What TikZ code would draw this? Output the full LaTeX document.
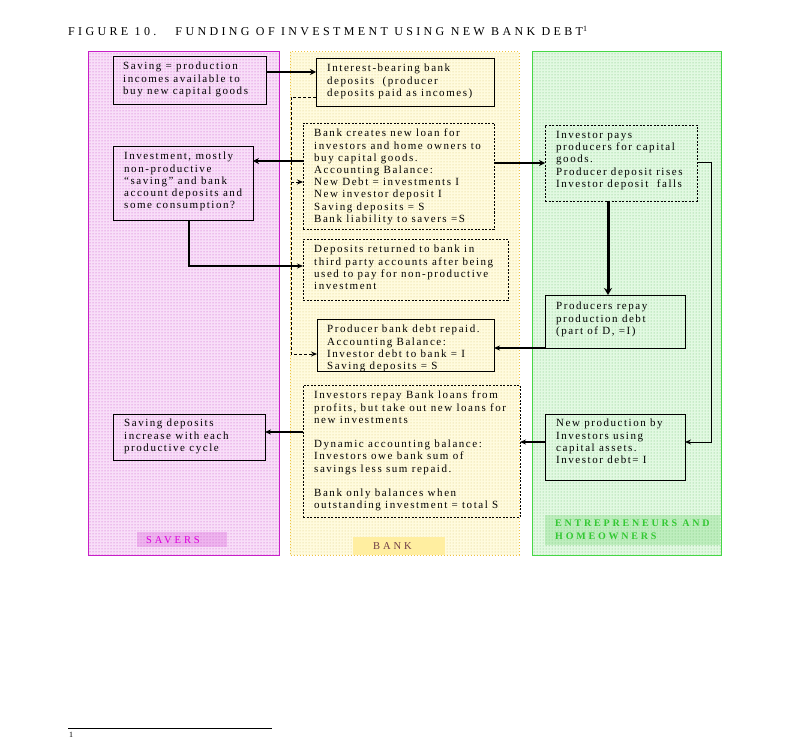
\documentclass[tikz,border=0pt]{standalone}
\usepackage{fontspec}
\setmainfont{Liberation Serif}
\newfontfamily\boxfont[LetterSpace=14,Ligatures=TeX]{Liberation Serif}
\newfontfamily\titlefont[LetterSpace=28]{Liberation Serif}
\usetikzlibrary{patterns,arrows.meta}
\definecolor{savfill}{RGB}{248,222,248}
\definecolor{savdot}{RGB}{200,80,200}
\definecolor{savline}{RGB}{200,30,200}
\definecolor{savhl}{RGB}{238,180,238}
\definecolor{savtxt}{RGB}{220,0,220}
\definecolor{bankfill}{RGB}{255,251,222}
\definecolor{bankdot}{RGB}{220,200,120}
\definecolor{bankline}{RGB}{240,195,60}
\definecolor{bankhl}{RGB}{255,238,160}
\definecolor{banktxt}{RGB}{110,60,70}
\definecolor{entfill}{RGB}{226,249,226}
\definecolor{entdot}{RGB}{110,190,110}
\definecolor{entline}{RGB}{70,215,70}
\definecolor{enthl}{RGB}{190,238,190}
\definecolor{enttxt}{RGB}{50,200,50}
\tikzset{
  box/.style={draw=black, line width=0.8pt, inner sep=0pt, outer sep=0pt, anchor=north west},
  dbox/.style={box, dash pattern=on 2pt off 1.5pt},
  txt/.style={font=\boxfont\fontsize{11}{12.2}\selectfont, align=left, anchor=north west, inner sep=0pt},
  lbl/.style={font=\titlefont\fontsize{10.5}{13}\selectfont, align=left, inner sep=0pt},
  arr/.style={line width=1.3pt, -{Stealth[length=6pt,width=5pt]}},
  tarr/.style={line width=2pt, -{Stealth[length=6pt,width=6pt]}},
  varr/.style={line width=3pt, -{Stealth[length=7pt,width=8pt]}},
  darr/.style={line width=0.9pt, dash pattern=on 3pt off 2pt, -{Stealth[length=6pt,width=5pt]}},
  tharr/.style={line width=1pt, -{Stealth[length=6pt,width=5pt]}}
}
\begin{document}
\begin{tikzpicture}[x=1pt,y=-1pt]
\useasboundingbox (0,0) rectangle (800,738);
\fill[white] (0,0) rectangle (800,738);
% columns
\fill[savfill] (88,52) rectangle (279,555);
\fill[pattern=dots, pattern color=savdot] (88,52) rectangle (279,555);
\draw[savline, line width=1pt] (88,52) rectangle (279,555);
\fill[bankfill] (290,52) rectangle (519,555);
\fill[pattern=dots, pattern color=bankdot] (290,52) rectangle (519,555);
\draw[bankline, line width=1pt, dotted] (290,52) rectangle (519,555);
\fill[entfill] (532,52) rectangle (721,555);
\fill[pattern=dots, pattern color=entdot] (532,52) rectangle (721,555);
\draw[entline, line width=1pt] (532,52) rectangle (721,555);
% column labels
\fill[savhl] (137,532) rectangle (227,547);
\fill[pattern=dots, pattern color=savdot] (137,532) rectangle (227,547);
\node[lbl, text=savtxt, anchor=west] (savers) at (146,540.5) {SAVERS};
\fill[bankhl] (353,537) rectangle (445,555);
\node[lbl, text=banktxt, anchor=west] (bank) at (373,546.5) {BANK};
\fill[enthl] (545,515) rectangle (720,545);
\fill[pattern=dots, pattern color=entdot] (545,515) rectangle (720,545);
\node[lbl, text=enttxt, anchor=north west, font=\titlefont\fontsize{10}{13}\bfseries\selectfont] (ent) at (555,520) {ENTREPRENEURS AND\\HOMEOWNERS};
% title
\node[anchor=base west, inner sep=0pt, font=\titlefont\fontsize{12}{14}\selectfont] (title) at (68,35.5) {FIGURE 10.\ \ \ FUNDING OF INVESTMENT USING NEW BANK DEBT\textsuperscript{1}};
% boxes
\node[box, minimum width=153pt, minimum height=48pt] (saving) at (113,56) {};
\node[txt] (savingT) at (123,62) {Saving = production\\incomes available to\\buy new capital goods};
\node[box, minimum width=140pt, minimum height=74pt] (investment) at (113,146) {};
\node[txt] (investmentT) at (124,152) {Investment, mostly\\non-productive\\“saving” and bank\\account deposits and\\some consumption?};
\node[box, minimum width=152pt, minimum height=46pt] (savdep) at (113,414) {};
\node[txt] (savdepT) at (124,419) {Saving deposits\\increase with each\\productive cycle};
\node[box, minimum width=178pt, minimum height=48pt] (interest) at (316,58) {};
\node[txt] (interestT) at (327,64) {Interest-bearing bank\\deposits\ \ (producer\\deposits paid as incomes)};
\node[dbox, minimum width=191pt, minimum height=106pt] (bankcreates) at (303,123) {};
\node[txt] (bankcreatesT) at (314,129) {Bank creates new loan for\\investors and home owners to\\buy capital goods.\\Accounting Balance:\\New Debt = investments I\\New investor deposit I\\Saving deposits = S\\Bank liability to savers =S};
\node[dbox, minimum width=205pt, minimum height=61pt] (deposits) at (303,239) {};
\node[txt] (depositsT) at (314,245) {Deposits returned to bank in\\third party accounts after being\\used to pay for non-productive\\investment};
\node[box, minimum width=177pt, minimum height=52pt] (prodrepaid) at (317,319) {};
\node[txt] (prodrepaidT) at (327,325) {Producer bank debt repaid.\\Accounting Balance:\\Investor debt to bank = I\\Saving deposits = S};
\node[dbox, minimum width=217pt, minimum height=132pt] (invrepay) at (303,385) {};
\node[txt] (invrepayT) at (314,391) {Investors repay Bank loans from\\profits, but take out new loans for\\new investments\\[12.2pt]Dynamic accounting balance:\\Investors owe bank sum of\\savings less sum repaid.\\[12.2pt]Bank only balances when\\outstanding investment = total S};
\node[dbox, minimum width=152pt, minimum height=76pt] (invpays) at (545,125) {};
\node[txt] (invpaysT) at (556,131) {Investor pays\\producers for capital\\goods.\\Producer deposit rises\\Investor deposit\ \ falls};
\node[box, minimum width=140pt, minimum height=53pt] (prodrepay) at (545,295) {};
\node[txt] (prodrepayT) at (556,302) {Producers repay\\production debt\\(part of D, =I)};
\node[box, minimum width=140pt, minimum height=66pt] (newprod) at (545,414) {};
\node[txt] (newprodT) at (556,419) {New production by\\Investors using\\capital assets.\\Investor debt= I};
% connectors
\draw[tarr] (saving.east |- 0,72) -- (interest.west |- 0,72);
\coordinate (dtop) at (291,97);
\coordinate (dbot) at (291,354);
\coordinate (dmid) at (291,182);
\draw[line width=0.9pt, dash pattern=on 3pt off 2pt] (interest.west |- 0,97) -- (dtop) -- (dmid);
\draw[darr] (dmid) -- (dbot) -- (prodrepaid.west |- 0,354);
\draw[darr] (dmid) -- (bankcreates.west |- 0,182);
\draw[tarr] (bankcreates.west |- 0,161) -- (investment.east |- 0,161);
\draw[tarr] (bankcreates.east |- 0,163) -- (invpays.west |- 0,163);
\coordinate (ibend) at (189,266);
\draw[arr] (investment.south -| 189,0) -- (ibend) -- (deposits.west |- 0,266);
\draw[varr] (invpays.south -| 608,0) -- (prodrepay.north -| 608,0);
\coordinate (rb1) at (711,163);
\coordinate (rb2) at (711,442);
\draw[tharr] (invpays.east |- 0,163) -- (rb1) -- (rb2) -- (newprod.east |- 0,442);
\draw[arr] (prodrepay.west |- 0,348) -- (prodrepaid.east |- 0,348);
\draw[arr] (newprod.west |- 0,442) -- (invrepay.east |- 0,442);
\draw[arr] (invrepay.west |- 0,432) -- (savdep.east |- 0,432);
% footnote
\coordinate (fn1) at (68,728);
\coordinate (fn2) at (272,728);
\draw[line width=0.8pt] (fn1) -- (fn2);
\node[anchor=north west, inner sep=0pt, font=\fontsize{8}{9}\selectfont] (fnmark) at (69,732) {1};
\end{tikzpicture}
\end{document}
